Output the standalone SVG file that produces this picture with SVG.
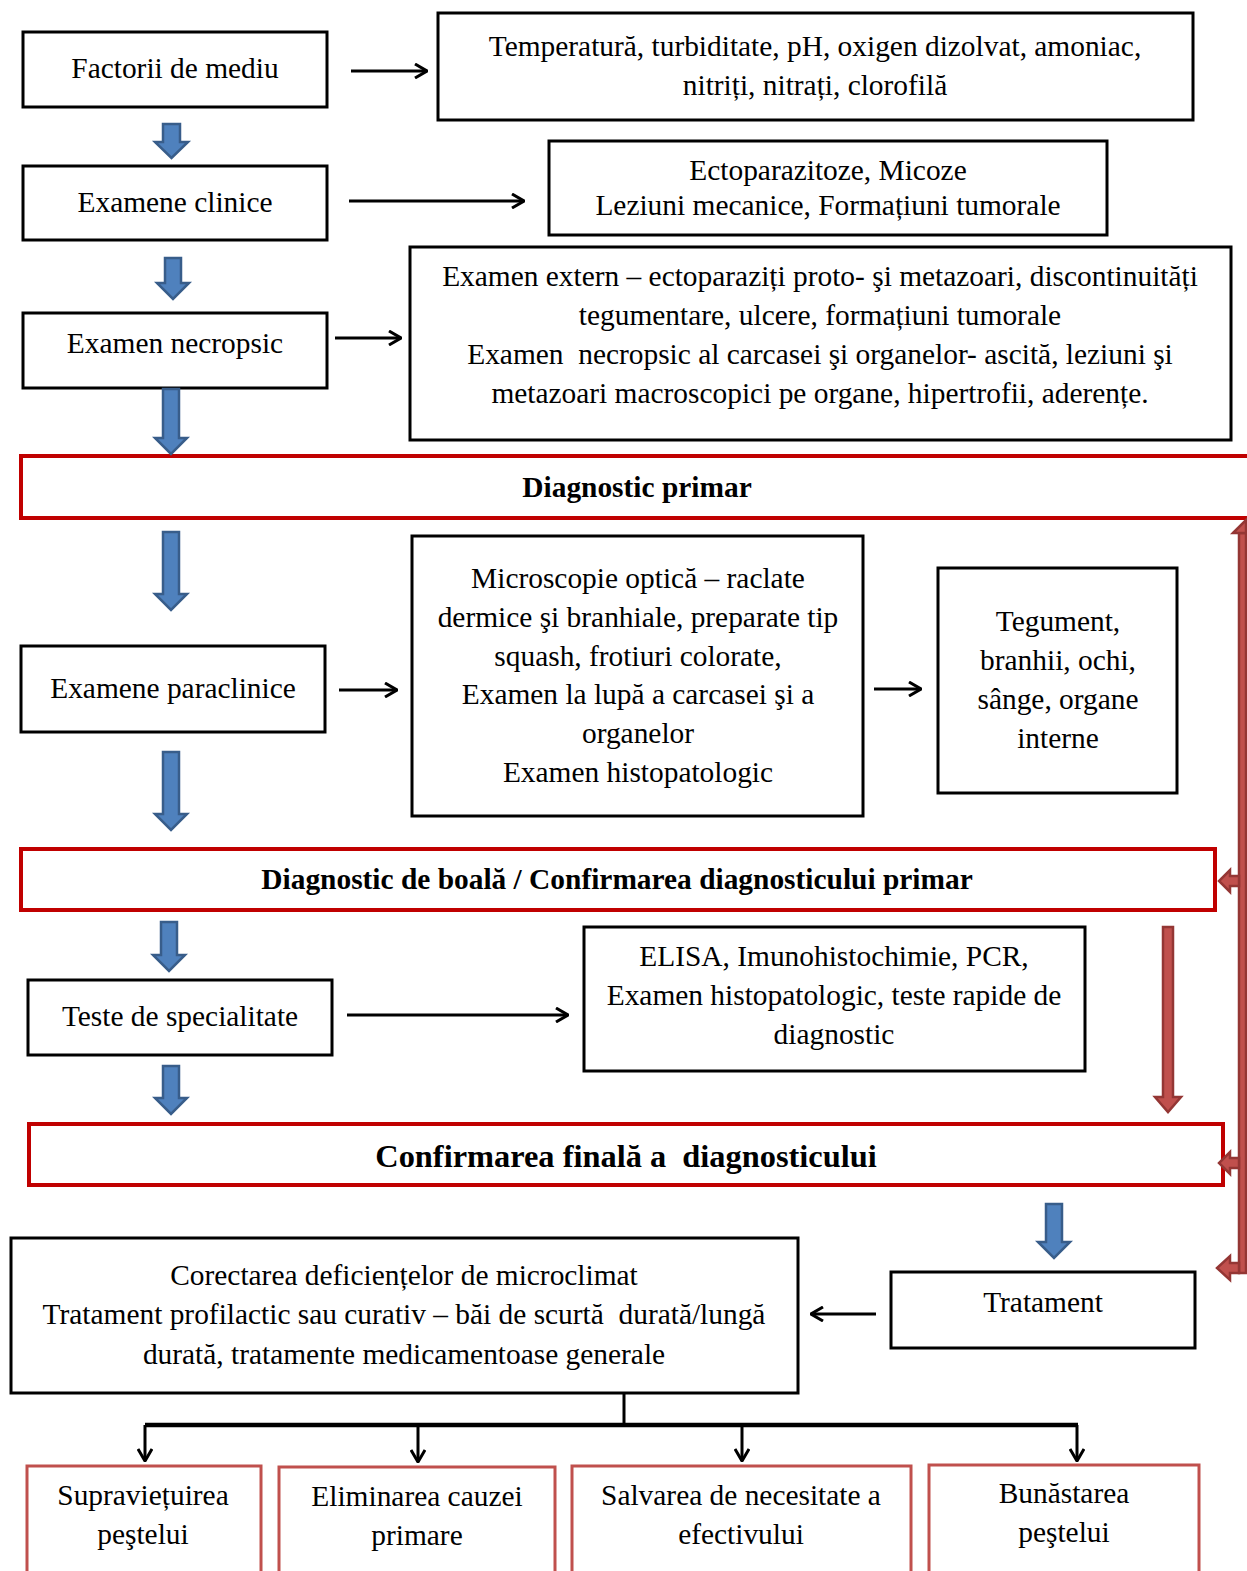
<svg xmlns="http://www.w3.org/2000/svg" width="1247" height="1571" viewBox="0 0 1247 1571">
<style>
text{font-family:"Liberation Serif","Times New Roman",serif;font-size:29.4px;fill:#000;text-anchor:middle}
.b{font-weight:bold}
.box{fill:#fff;stroke:#000;stroke-width:3}
.rbox{fill:#fff;stroke:#c00000;stroke-width:4}
.obox{fill:#fff;stroke:#c0504d;stroke-width:3}
.ln{fill:none;stroke:#000;stroke-width:3}
.blue{fill:#4f81bd;stroke:#385d8a;stroke-width:2.5}
.red{fill:#c0504d;stroke:#943634;stroke-width:2.5}
</style>
<defs>
<marker id="ah" viewBox="0 0 14 16" refX="13" refY="8" markerWidth="14" markerHeight="16" markerUnits="userSpaceOnUse" orient="auto">
<path d="M1,1 L13,8 L1,15" fill="none" stroke="#000" stroke-width="3"/>
</marker>
</defs>

<g id="n-factorii"><rect class="box" x="23" y="32" width="304" height="75"/><text x="175" y="78">Factorii de mediu</text></g>
<g id="n-temperatura"><rect class="box" x="438" y="13" width="755" height="107"/><text x="815" y="56">Temperatură, turbiditate, pH, oxigen dizolvat, amoniac,</text><text x="815" y="95">nitriți, nitrați, clorofilă</text></g>
<g id="n-clinice"><rect class="box" x="23" y="166" width="304" height="74"/><text x="175" y="212">Examene clinice</text></g>
<g id="n-ecto"><rect class="box" x="549" y="141" width="558" height="94"/><text x="828" y="180">Ectoparazitoze, Micoze</text><text x="828" y="215">Leziuni mecanice, Formațiuni tumorale</text></g>
<g id="n-necropsic"><rect class="box" x="23" y="313" width="304" height="75"/><text x="175" y="353">Examen necropsic</text></g>
<g id="n-extern"><rect class="box" x="410" y="247" width="821" height="193"/><text x="820" y="286">Examen extern – ectoparaziți proto- şi metazoari, discontinuități</text><text x="820" y="325">tegumentare, ulcere, formațiuni tumorale</text><text x="820" y="364">Examen &#160;necropsic al carcasei şi organelor- ascită, leziuni şi</text><text x="820" y="403">metazoari macroscopici pe organe, hipertrofii, aderențe.</text></g>
<g id="n-diagprimar"><rect class="rbox" x="21" y="456" width="1240" height="62"/><text class="b" x="637" y="497">Diagnostic primar</text></g>
<g id="n-paraclinice"><rect class="box" x="21" y="646" width="304" height="86"/><text x="173" y="698">Examene paraclinice</text></g>
<g id="n-microscopie"><rect class="box" x="412" y="536" width="451" height="280"/><text x="638" y="588">Microscopie optică – raclate</text><text x="638" y="627">dermice şi branhiale, preparate tip</text><text x="638" y="666">squash, frotiuri colorate,</text><text x="638" y="704">Examen la lupă a carcasei şi a</text><text x="638" y="743">organelor</text><text x="638" y="782">Examen histopatologic</text></g>
<g id="n-tegument"><rect class="box" x="938" y="568" width="239" height="225"/><text x="1058" y="631">Tegument,</text><text x="1058" y="670">branhii, ochi,</text><text x="1058" y="709">sânge, organe</text><text x="1058" y="748">interne</text></g>
<g id="n-diagboala"><rect class="rbox" x="21" y="849" width="1194" height="61"/><text class="b" x="617" y="889">Diagnostic de boală / Confirmarea diagnosticului primar</text></g>
<g id="n-teste"><rect class="box" x="28" y="980" width="304" height="75"/><text x="180" y="1026">Teste de specialitate</text></g>
<g id="n-elisa"><rect class="box" x="584" y="927" width="501" height="144"/><text x="834" y="966">ELISA, Imunohistochimie, PCR,</text><text x="834" y="1005">Examen histopatologic, teste rapide de</text><text x="834" y="1044">diagnostic</text></g>
<g id="n-confirmare"><rect class="rbox" x="29" y="1124" width="1194" height="61"/><text class="b" x="626" y="1167" style="font-size:32.4px">Confirmarea finală a &#160;diagnosticului</text></g>
<g id="n-corectarea"><rect class="box" x="11" y="1238" width="787" height="155"/><text x="404" y="1285">Corectarea deficiențelor de microclimat</text><text x="404" y="1324">Tratament profilactic sau curativ – băi de scurtă &#160;durată/lungă</text><text x="404" y="1364">durată, tratamente medicamentoase generale</text></g>
<g id="n-tratament"><rect class="box" x="891" y="1272" width="304" height="76"/><text x="1043" y="1312">Tratament</text></g>
<g id="n-supravietuirea"><rect class="obox" x="27" y="1466" width="234" height="120"/><text x="143" y="1505">Supraviețuirea</text><text x="143" y="1544">peştelui</text></g>
<g id="n-eliminarea"><rect class="obox" x="279" y="1467" width="276" height="120"/><text x="417" y="1506">Eliminarea cauzei</text><text x="417" y="1545">primare</text></g>
<g id="n-salvarea"><rect class="obox" x="572" y="1466" width="339" height="120"/><text x="741" y="1505">Salvarea de necesitate a</text><text x="741" y="1544">efectivului</text></g>
<g id="n-bunastarea"><rect class="obox" x="929" y="1465" width="270" height="120"/><text x="1064" y="1503">Bunăstarea</text><text x="1064" y="1542">peştelui</text></g>

<g id="connectors">
<line class="ln" x1="351" y1="71" x2="427" y2="71" marker-end="url(#ah)"/>
<line class="ln" x1="349" y1="201" x2="524" y2="201" marker-end="url(#ah)"/>
<line class="ln" x1="335" y1="338" x2="401" y2="338" marker-end="url(#ah)"/>
<line class="ln" x1="339" y1="690" x2="397" y2="690" marker-end="url(#ah)"/>
<line class="ln" x1="874" y1="689" x2="921" y2="689" marker-end="url(#ah)"/>
<line class="ln" x1="347" y1="1015" x2="568" y2="1015" marker-end="url(#ah)"/>
<line class="ln" x1="876" y1="1314" x2="811" y2="1314" marker-end="url(#ah)"/>
<line class="ln" x1="624" y1="1393" x2="624" y2="1425"/>
<line x1="145" y1="1425" x2="1078" y2="1425" stroke="#000" stroke-width="4.5"/>
<line class="ln" x1="145" y1="1425" x2="145" y2="1461" marker-end="url(#ah)"/>
<line class="ln" x1="418" y1="1425" x2="418" y2="1462" marker-end="url(#ah)"/>
<line class="ln" x1="742" y1="1425" x2="742" y2="1461" marker-end="url(#ah)"/>
<line class="ln" x1="1077" y1="1425" x2="1077" y2="1461" marker-end="url(#ah)"/>

<path class="blue" d="M163,124 H180 V142 H188 L171.5,158 L155,142 H163 Z"/>
<path class="blue" d="M165,258 H181 V283 H189 L173,299 L157,283 H165 Z"/>
<path class="blue" d="M163,389 H179 V438 H187 L171,454 L155,438 H163 Z"/>
<path class="blue" d="M163,532 H179 V594 H187 L171,610 L155,594 H163 Z"/>
<path class="blue" d="M163,752 H179 V814 H187 L171,830 L155,814 H163 Z"/>
<path class="blue" d="M161,922 H177 V955 H185 L169,971 L153,955 H161 Z"/>
<path class="blue" d="M163,1066 H179 V1098 H187 L171,1114 L155,1098 H163 Z"/>
<path class="blue" d="M1046,1204 H1062 V1242 H1070 L1054,1258 L1038,1242 H1046 Z"/>

<path class="red" d="M1163,927 H1173 V1097 H1181 L1168,1112 L1155,1097 H1163 Z"/>
<path class="red" d="M1239,533 H1246 V1273 H1239 Z"/>
<path class="red" d="M1233,533 L1246,520 V533 Z"/>
<path class="red" d="M1239,876 H1230 V870 L1219,881 L1230,892 V886 H1239 Z"/>
<path class="red" d="M1239,1158 H1230 V1152 L1219,1163 L1230,1174 V1168 H1239 Z"/>
<path class="red" d="M1239,1263 H1230 V1256 L1217,1268 L1230,1280 V1273 H1239 Z"/>
</g>
</svg>
